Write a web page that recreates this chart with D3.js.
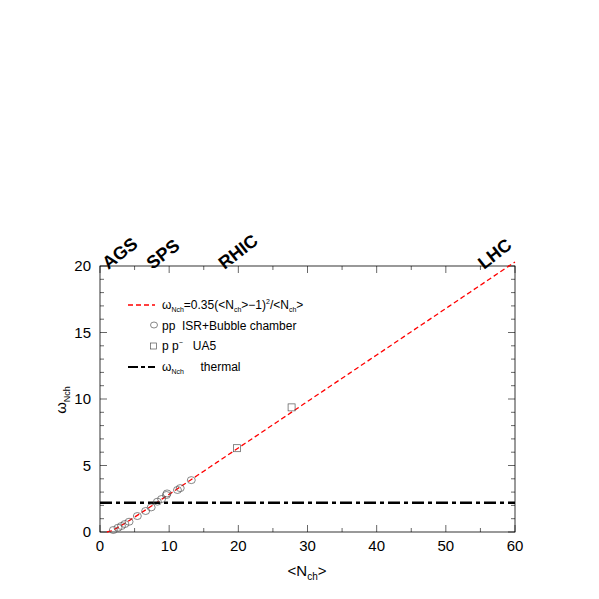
<!DOCTYPE html>
<html><head><meta charset="utf-8">
<script src="https://d3js.org/d3.v7.min.js"></script>
<style>body{margin:0;background:#fff;font-family:"Liberation Sans",Arial,sans-serif} text{white-space:pre}</style>
</head><body><svg id="vis" width="599" height="599"></svg>
<script>
var ppX = [1.93, 2.6, 3.1, 3.6, 4.2, 5.4, 6.6, 7.4, 8.3, 8.9, 9.6, 9.7, 11.2, 11.6, 13.2];
var ppY = [0.15, 0.32, 0.45, 0.6, 0.77, 1.2, 1.58, 1.85, 2.28, 2.48, 2.78, 2.9, 3.16, 3.3, 3.9];
var ua5X = [19.8, 27.7];
var ua5Y = [6.3, 9.37];
var thermal = 2.2;
var coef = 0.35;
var energies = [{name:"AGS", x:1.2}, {name:"SPS", x:7.6}, {name:"RHIC", x:18.0}, {name:"LHC", x:55.5}];

var svg = d3.select("#vis");
var x = d3.scaleLinear().domain([0, 60]).range([100, 515]);
var y = d3.scaleLinear().domain([0, 20]).range([532, 266]);

svg.append("rect").attr("x", 100).attr("y", 266).attr("width", 415).attr("height", 266)
  .attr("fill", "none").attr("stroke", "#000").attr("stroke-width", 0.8);

function ticks(axis, vals, len) {
  vals.forEach(function(v) {
    if (axis == "x") {
      svg.append("line").attr("x1", x(v)).attr("x2", x(v)).attr("y1", 532).attr("y2", 532 - len).attr("stroke", "#000").attr("stroke-width", 0.6);
      svg.append("line").attr("x1", x(v)).attr("x2", x(v)).attr("y1", 266).attr("y2", 266 + len).attr("stroke", "#000").attr("stroke-width", 0.6);
    } else {
      svg.append("line").attr("y1", y(v)).attr("y2", y(v)).attr("x1", 100).attr("x2", 100 + len).attr("stroke", "#000").attr("stroke-width", 0.6);
      svg.append("line").attr("y1", y(v)).attr("y2", y(v)).attr("x1", 515).attr("x2", 515 - len).attr("stroke", "#000").attr("stroke-width", 0.6);
    }
  });
}
ticks("x", d3.range(0, 61, 10), 7);
ticks("x", d3.range(5, 60, 10), 4);
ticks("y", d3.range(0, 21, 5), 7);
ticks("y", d3.range(0, 21, 1).filter(function(v){return v % 5;}), 4);

d3.range(0, 61, 10).forEach(function(v) {
  svg.append("text").attr("x", x(v)).attr("y", 551).attr("text-anchor", "middle").attr("font-size", 15).text(v);
});
d3.range(0, 21, 5).forEach(function(v) {
  svg.append("text").attr("x", 91).attr("y", y(v) + 5).attr("text-anchor", "end").attr("font-size", 15).text(v);
});

var xt = svg.append("text").attr("x", 307).attr("y", 576).attr("text-anchor", "middle").attr("font-size", 15);
xt.append("tspan").text("<N");
xt.append("tspan").attr("font-size", 10).attr("dy", 4).text("ch");
xt.append("tspan").attr("dy", -4).text(">");
var yt = svg.append("text").attr("transform", "translate(66,400) rotate(-90)").attr("text-anchor", "middle").attr("font-size", 15);
yt.append("tspan").text("ω");
yt.append("tspan").attr("font-size", 9).attr("dy", 4).text("Nch");

energies.forEach(function(e) {
  svg.append("text").attr("transform", "translate(" + x(e.x) + ",270) rotate(-38)")
    .attr("font-size", 18).attr("font-weight", "bold").text(e.name);
});

var curve = d3.range(1, 60.01, 0.5);
svg.append("path").datum(curve)
  .attr("d", d3.line().x(function(d){return x(d);}).y(function(d){return y(coef * (d - 1) * (d - 1) / d);}))
  .attr("fill", "none").attr("stroke", "#f00").attr("stroke-width", 1.3).attr("stroke-dasharray", "5,3");

svg.append("line").attr("x1", x(0)).attr("x2", x(60)).attr("y1", y(thermal)).attr("y2", y(thermal))
  .attr("stroke", "#000").attr("stroke-width", 2.5).attr("stroke-dasharray", "12,4,4,4");

svg.selectAll(".pp").data(ppX).enter().append("ellipse")
  .attr("cx", function(d){return x(d);}).attr("cy", function(d, i){return y(ppY[i]);})
  .attr("rx", 4).attr("ry", 3.5).attr("fill", "none").attr("stroke", "#555").attr("stroke-width", 0.7);
svg.selectAll(".ua").data(ua5X).enter().append("rect")
  .attr("x", function(d){return x(d) - 3.5;}).attr("y", function(d, i){return y(ua5Y[i]) - 3.5;})
  .attr("width", 7).attr("height", 7).attr("fill", "none").attr("stroke", "#555").attr("stroke-width", 0.7);

var lg = svg.append("g").attr("font-size", 12);
lg.append("line").attr("x1", 128).attr("x2", 155).attr("y1", 305).attr("y2", 305).attr("stroke", "#f00").attr("stroke-width", 1.3).attr("stroke-dasharray", "5,3");
var t1 = lg.append("text").attr("x", 162).attr("y", 309);
t1.append("tspan").text("ω");
t1.append("tspan").attr("font-size", 7).attr("dy", 3).text("Nch");
t1.append("tspan").attr("dy", -3).text("=0.35(<N");
t1.append("tspan").attr("font-size", 7).attr("dy", 3).text("ch");
t1.append("tspan").attr("dy", -3).text(">−1)");
t1.append("tspan").attr("font-size", 7).attr("dy", -5).text("2");
t1.append("tspan").attr("dy", 5).text("/<N");
t1.append("tspan").attr("font-size", 7).attr("dy", 3).text("ch");
t1.append("tspan").attr("dy", -3).text(">");
lg.append("ellipse").attr("cx", 154).attr("cy", 325).attr("rx", 3.5).attr("ry", 3).attr("fill", "none").attr("stroke", "#555").attr("stroke-width", 0.7);
lg.append("text").attr("x", 162).attr("y", 330).text("pp  ISR+Bubble chamber");
lg.append("rect").attr("x", 150.5).attr("y", 343).attr("width", 6).attr("height", 6).attr("fill", "none").attr("stroke", "#555").attr("stroke-width", 0.7);
var t3 = lg.append("text").attr("x", 162).attr("y", 350);
t3.append("tspan").text("p p");
t3.append("tspan").attr("font-size", 7).attr("dy", -5).text("−");
t3.append("tspan").attr("dy", 5).text("   UA5");
lg.append("line").attr("x1", 128).attr("x2", 155).attr("y1", 367).attr("y2", 367).attr("stroke", "#000").attr("stroke-width", 2).attr("stroke-dasharray", "10,3,4,3");
var t4 = lg.append("text").attr("x", 162).attr("y", 371);
t4.append("tspan").text("ω");
t4.append("tspan").attr("font-size", 7).attr("dy", 3).text("Nch");
t4.append("tspan").attr("dy", -3).text("     thermal");
</script></body></html>
